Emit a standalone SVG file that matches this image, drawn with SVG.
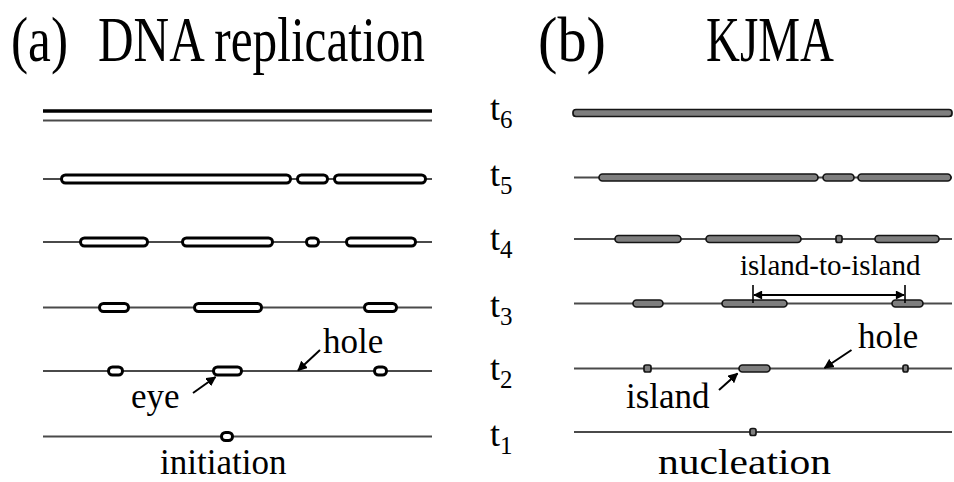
<svg xmlns="http://www.w3.org/2000/svg" width="954" height="482" viewBox="0 0 954 482">
<defs>
<style>
text{font-family:"Liberation Serif","DejaVu Serif","Times New Roman",serif;fill:#000}
.title{font-size:64px}
.lab{font-size:35px}
.t{font-size:36px}
.sub{font-size:25px}
.strand{stroke:#4a4a4a;stroke-width:2;fill:none}
.eye{fill:#fff;stroke:#000;stroke-width:3}
.isl{fill:#7e7e7e;stroke:#151515;stroke-width:1.7}
.arr{stroke:#000;stroke-width:2;fill:none}
</style>
<marker id="ah" viewBox="0 0 10 10" refX="9" refY="5" markerWidth="5" markerHeight="5" orient="auto" markerUnits="strokeWidth">
<path d="M0,0 L10,5 L0,10 Z" fill="#000"/>
</marker>
<marker id="ah2" viewBox="0 0 10 10" refX="9" refY="5" markerWidth="6" markerHeight="5" orient="auto-start-reverse" markerUnits="strokeWidth">
<path d="M0,0 L10,5 L0,10 Z" fill="#000"/>
</marker>
</defs>

<g id="titles">
<text class="title" x="11" y="61" textLength="57" lengthAdjust="spacingAndGlyphs">(a)</text>
<text class="title" x="98" y="61" textLength="327" lengthAdjust="spacingAndGlyphs">DNA replication</text>
<text class="title" x="538" y="61" textLength="68" lengthAdjust="spacingAndGlyphs">(b)</text>
<text class="title" x="706" y="61" textLength="128" lengthAdjust="spacingAndGlyphs">KJMA</text>
</g>

<g id="time-labels">
<text class="t" x="490" y="120">t<tspan class="sub" dy="8">6</tspan></text>
<text class="t" x="490" y="186">t<tspan class="sub" dy="8">5</tspan></text>
<text class="t" x="490" y="250">t<tspan class="sub" dy="8">4</tspan></text>
<text class="t" x="490" y="317">t<tspan class="sub" dy="8">3</tspan></text>
<text class="t" x="490" y="380">t<tspan class="sub" dy="8">2</tspan></text>
<text class="t" x="490" y="446">t<tspan class="sub" dy="8">1</tspan></text>
</g>

<g id="dna-t6">
<line x1="43" y1="111" x2="432" y2="111" stroke="#000" stroke-width="3.5"/>
<line class="strand" x1="43" y1="120.5" x2="432" y2="120.5"/>
</g>
<g id="dna-t5">
<line class="strand" x1="43" y1="179" x2="432" y2="179"/>
<rect class="eye" x="61.5" y="175" width="229" height="8" rx="4"/>
<rect class="eye" x="297.5" y="175" width="30" height="8" rx="4"/>
<rect class="eye" x="334.5" y="175" width="91" height="8" rx="4"/>
</g>
<g id="dna-t4">
<line class="strand" x1="43" y1="242" x2="432" y2="242"/>
<rect class="eye" x="80.5" y="238" width="67" height="8" rx="4"/>
<rect class="eye" x="182.5" y="238" width="90" height="8" rx="4"/>
<rect class="eye" x="306.5" y="238" width="12" height="8" rx="4"/>
<rect class="eye" x="346.5" y="238" width="69" height="8" rx="4"/>
</g>
<g id="dna-t3">
<line class="strand" x1="43" y1="307.5" x2="432" y2="307.5"/>
<rect class="eye" x="99.5" y="303.5" width="29" height="8" rx="4"/>
<rect class="eye" x="194.5" y="303.5" width="67" height="8" rx="4"/>
<rect class="eye" x="364.5" y="303.5" width="32" height="8" rx="4"/>
</g>
<g id="dna-t2">
<line class="strand" x1="43" y1="371" x2="432" y2="371"/>
<rect class="eye" x="108.5" y="367" width="14" height="8" rx="4"/>
<rect class="eye" x="213.5" y="367" width="28" height="8" rx="4"/>
<rect class="eye" x="374.5" y="367" width="12" height="8" rx="4"/>
</g>
<g id="dna-t1">
<line class="strand" x1="43" y1="436.5" x2="432" y2="436.5"/>
<rect class="eye" x="221.5" y="432.5" width="11" height="8" rx="4"/>
</g>

<g id="kjma-t6">
<rect class="isl" x="573" y="109.5" width="379" height="7" rx="3"/>
</g>
<g id="kjma-t5">
<line class="strand" x1="574" y1="177.5" x2="952" y2="177.5"/>
<rect class="isl" x="599" y="174" width="219" height="7" rx="3.5"/>
<rect class="isl" x="823" y="174" width="31" height="7" rx="3.5"/>
<rect class="isl" x="858" y="174" width="93" height="7" rx="3.5"/>
</g>
<g id="kjma-t4">
<line class="strand" x1="574" y1="239" x2="952" y2="239"/>
<rect class="isl" x="615" y="235.5" width="66" height="7" rx="3.5"/>
<rect class="isl" x="706" y="235.5" width="95" height="7" rx="3.5"/>
<rect class="isl" x="836" y="235.5" width="6" height="7" rx="2"/>
<rect class="isl" x="875" y="235.5" width="64" height="7" rx="3.5"/>
</g>
<g id="kjma-t3">
<line class="strand" x1="574" y1="303.5" x2="952" y2="303.5"/>
<rect class="isl" x="633" y="300" width="30" height="7" rx="3.5"/>
<rect class="isl" x="722" y="300" width="65" height="7" rx="3.5"/>
<rect class="isl" x="892" y="300" width="31" height="7" rx="3.5"/>
</g>
<g id="kjma-t2">
<line class="strand" x1="574" y1="368.5" x2="952" y2="368.5"/>
<rect class="isl" x="644" y="365" width="7" height="7" rx="2"/>
<rect class="isl" x="739" y="365" width="31" height="7" rx="3.5"/>
<rect class="isl" x="903" y="365" width="5" height="7" rx="2"/>
</g>
<g id="kjma-t1">
<line class="strand" x1="574" y1="432" x2="952" y2="432"/>
<rect class="isl" x="750" y="428.5" width="6" height="7" rx="2"/>
</g>

<g id="labels">
<text class="lab" x="323" y="353">hole</text>
<text class="lab" x="131" y="408">eye</text>
<text class="lab" x="160" y="474">initiation</text>
<text class="lab" x="858" y="348">hole</text>
<text class="lab" x="626" y="408">island</text>
<text style="font-size:29px" x="740" y="275">island-to-island</text>
<text class="lab" x="658" y="474" textLength="173" lengthAdjust="spacingAndGlyphs">nucleation</text>
</g>

<g id="connectors">
<line class="arr" x1="320" y1="350" x2="298" y2="370.5" marker-end="url(#ah)"/>
<line class="arr" x1="193" y1="393" x2="215.5" y2="377" marker-end="url(#ah)"/>
<line class="arr" x1="851.5" y1="350" x2="824.5" y2="368" marker-end="url(#ah)"/>
<line class="arr" x1="719" y1="390" x2="737.5" y2="373.5" marker-end="url(#ah)"/>
<line stroke="#000" stroke-width="1.6" x1="753" y1="285" x2="753" y2="303"/>
<line stroke="#000" stroke-width="1.6" x1="905" y1="285" x2="905" y2="303"/>
<line stroke="#000" stroke-width="1.8" x1="754" y1="295" x2="904" y2="295" marker-start="url(#ah2)" marker-end="url(#ah2)"/>
</g>
</svg>
